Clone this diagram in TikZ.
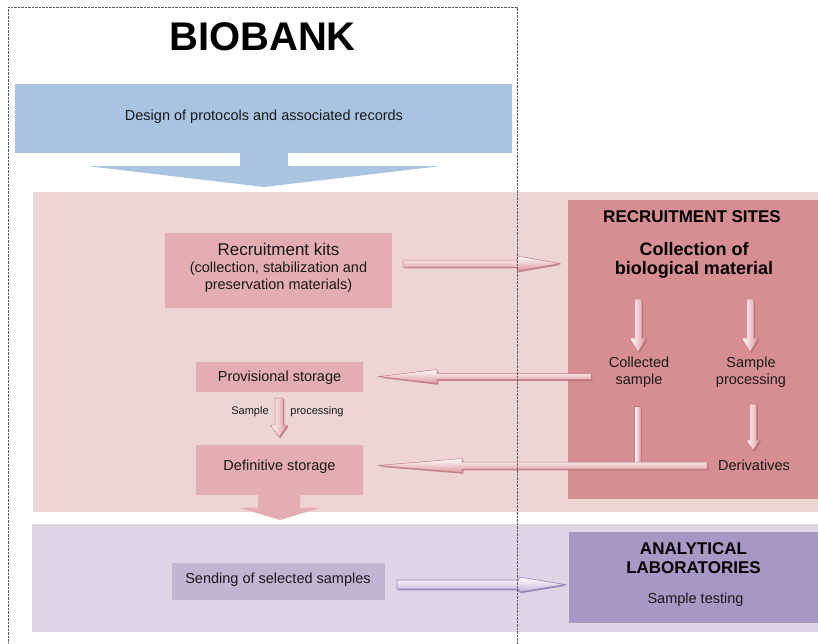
\documentclass[tikz,border=0pt]{standalone}
\usepackage{fontspec}
\setmainfont{Liberation Sans}
\usetikzlibrary{calc}
\definecolor{bluebox}{RGB}{169,196,224}
\definecolor{pinkbg}{RGB}{237,213,213}
\definecolor{pinkbox}{RGB}{228,173,178}
\definecolor{sitesbox}{RGB}{215,142,146}
\definecolor{purplebg}{RGB}{222,214,230}
\definecolor{sendbox}{RGB}{192,181,211}
\definecolor{analbox}{RGB}{166,151,196}
\definecolor{apink}{RGB}{220,150,156}
\definecolor{apinkedge}{RGB}{200,120,128}
\definecolor{apinkshadow}{RGB}{170,100,106}
\definecolor{apurple}{RGB}{195,182,220}
\definecolor{apurpleedge}{RGB}{150,130,190}
\definecolor{apurpleshadow}{RGB}{125,105,165}
\definecolor{dashgray}{RGB}{90,90,90}
\newcommand\slimarrow[6]{%
  \coordinate (sah) at ($(#3)!#6!(#2)$);
  \path[#1] ($(#2)!#4!90:(#3)$) -- ($(sah)!#4!-90:(#2)$) -- ($(sah)!#5!-90:(#2)$) -- (#3)
    -- ($(sah)!#5!90:(#2)$) -- ($(sah)!#4!90:(#2)$) -- ($(#2)!#4!-90:(#3)$) -- cycle;
}
\begin{document}
\begin{tikzpicture}[x=1pt,y=-1pt,
  box/.style={draw=none,inner sep=0pt,outer sep=0pt,rectangle},
  body/.style={font=\fontsize{14.5}{17}\selectfont,align=center,inner sep=0pt,text=black!90},
  head/.style={font=\bfseries\fontsize{17}{19.5}\selectfont,align=center,inner sep=0pt},
  small/.style={font=\fontsize{11}{13}\selectfont,inner sep=0pt,text=black!90},
  pshadow/.style={fill=apinkshadow,opacity=0.7,transform canvas={shift={(1.3,1.3)}}},
  parrowH/.style={top color=white,bottom color=apink,draw=apinkedge,line width=0.5pt},
  parrowV/.style={left color=white,right color=apink,draw=apinkedge,line width=0.5pt},
  ushadow/.style={fill=apurpleshadow,opacity=0.7,transform canvas={shift={(1.3,1.3)}}},
  uarrowH/.style={top color=white,bottom color=apurple,draw=apurpleedge,line width=0.6pt},
]
\useasboundingbox (0,0) rectangle (818,643);
\fill[white] (0,0) rectangle (818,643);

% title
\node[inner sep=0pt,font=\bfseries\fontsize{40}{42}\selectfont] (biobank) at (262.5,37) {BIOBANK};

% blue design box and arrow
\node[box,fill=bluebox,minimum width=497,minimum height=69] (design) at (263.5,118.5) {};
\node[body] (designtxt) at (264,116.5) {Design of protocols and associated records};
\fill[bluebox] (240,152) -- (240,166) -- (87,166) -- (264,187) -- (441,166) -- (288,166) -- (288,152) -- cycle;

% pink band
\node[box,fill=pinkbg,minimum width=785,minimum height=320] (pinkband) at (425.5,352) {};
\node[box,fill=sitesbox,minimum width=250,minimum height=299] (sites) at (693,349.5) {};
\node[box,fill=pinkbox,minimum width=227,minimum height=75] (kits) at (278.5,270.5) {};
\node[box,fill=pinkbox,minimum width=167,minimum height=30] (prov) at (279.5,377) {};
\node[box,fill=pinkbox,minimum width=167,minimum height=50] (defin) at (279.5,470) {};

% purple band
\node[box,fill=purplebg,minimum width=786,minimum height=108] (purpleband) at (425,578) {};
\node[box,fill=sendbox,minimum width=213,minimum height=37] (send) at (278.5,581.5) {};
\node[box,fill=analbox,minimum width=249,minimum height=91] (anal) at (693.5,577.5) {};

% pink down arrow from definitive storage
\fill[pinkbox] (258,494) -- (258,507.5) -- (238,507.5) -- (280,520) -- (321,507.5) -- (300,507.5) -- (300,494) -- cycle;

% texts
\node[head] (sitestitle) at (692,216.5) {RECRUITMENT SITES};
\node[font=\bfseries\fontsize{18}{19}\selectfont,align=center,inner sep=0pt] (collection) at (694,260) {Collection of\\biological material};
\node[body] (kitstxt) at (278.5,267.5) {{\fontsize{17}{18}\selectfont Recruitment kits}\\(collection, stabilization and\\preservation materials)};
\node[body] (provtxt) at (279.5,377.5) {Provisional storage};
\node[body] (defintxt) at (279.5,467) {Definitive storage};
\node[body] (collected) at (639,372.5) {Collected\\sample};
\node[body] (processing) at (751,372.5) {Sample\\processing};
\node[body] (derivatives) at (754,465) {Derivatives};
\node[small] (smpl) at (250,412) {Sample};
\node[small] (proc) at (317,412) {processing};
\node[head,font=\bfseries\fontsize{17}{19}\selectfont] (analtxt) at (693.5,558.5) {ANALYTICAL\\LABORATORIES};
\node[body] (testing) at (695.5,600) {Sample testing};
\node[body] (sendtxt) at (278,579.5) {Sending of selected samples};

% arrow coordinates
\coordinate (kitsA) at (403,263.5);  \coordinate (kitsB) at (560,263.5);
\coordinate (provA) at (591,376.5);  \coordinate (provB) at (379,376.5);
\coordinate (derA) at (707,465.5);   \coordinate (derB) at (378,465.5);
\coordinate (colA) at (638,299);     \coordinate (colB) at (638,352);
\coordinate (spA) at (750,299);      \coordinate (spB) at (750,352);
\coordinate (smA) at (279,398);      \coordinate (smB) at (279,437);
\coordinate (dvA) at (753,404);      \coordinate (dvB) at (753,450);
\coordinate (sendA) at (397,584.5);  \coordinate (sendB) at (565,584.5);

% slim 3D arrows
\slimarrow{pshadow}{kitsA}{kitsB}{3.5pt}{7.5pt}{43pt}
\slimarrow{parrowH}{kitsA}{kitsB}{3.5pt}{7.5pt}{43pt}
\slimarrow{pshadow}{provA}{provB}{3pt}{7pt}{58pt}
\slimarrow{parrowH}{provA}{provB}{3pt}{7pt}{58pt}
\fill[apinkshadow,opacity=0.7,transform canvas={shift={(1.3,1.3)}}] (634.5,406) rectangle (641,462);
\path[parrowV] (634.5,406) rectangle (641,462);
\slimarrow{pshadow}{derA}{derB}{3.5pt}{7pt}{84pt}
\slimarrow{parrowH}{derA}{derB}{3.5pt}{7pt}{84pt}
\slimarrow{pshadow}{colA}{colB}{3.75pt}{8.5pt}{14pt}
\slimarrow{parrowV}{colA}{colB}{3.75pt}{8.5pt}{14pt}
\slimarrow{pshadow}{spA}{spB}{3.75pt}{8.5pt}{14pt}
\slimarrow{parrowV}{spA}{spB}{3.75pt}{8.5pt}{14pt}
\slimarrow{pshadow}{smA}{smB}{4pt}{8.5pt}{12pt}
\slimarrow{parrowV}{smA}{smB}{4pt}{8.5pt}{12pt}
\slimarrow{pshadow}{dvA}{dvB}{3.5pt}{7pt}{10pt}
\slimarrow{parrowV}{dvA}{dvB}{3.5pt}{7pt}{10pt}
\slimarrow{ushadow}{sendA}{sendB}{4.5pt}{7.5pt}{46pt}
\slimarrow{uarrowH}{sendA}{sendB}{4.5pt}{7.5pt}{46pt}

% dashed biobank frame
\draw[dashgray,line width=0.7pt,dash pattern=on 2.5pt off 1pt] (8,645) -- (8,7) -- (517,7) -- (517,645);
\end{tikzpicture}
\end{document}
